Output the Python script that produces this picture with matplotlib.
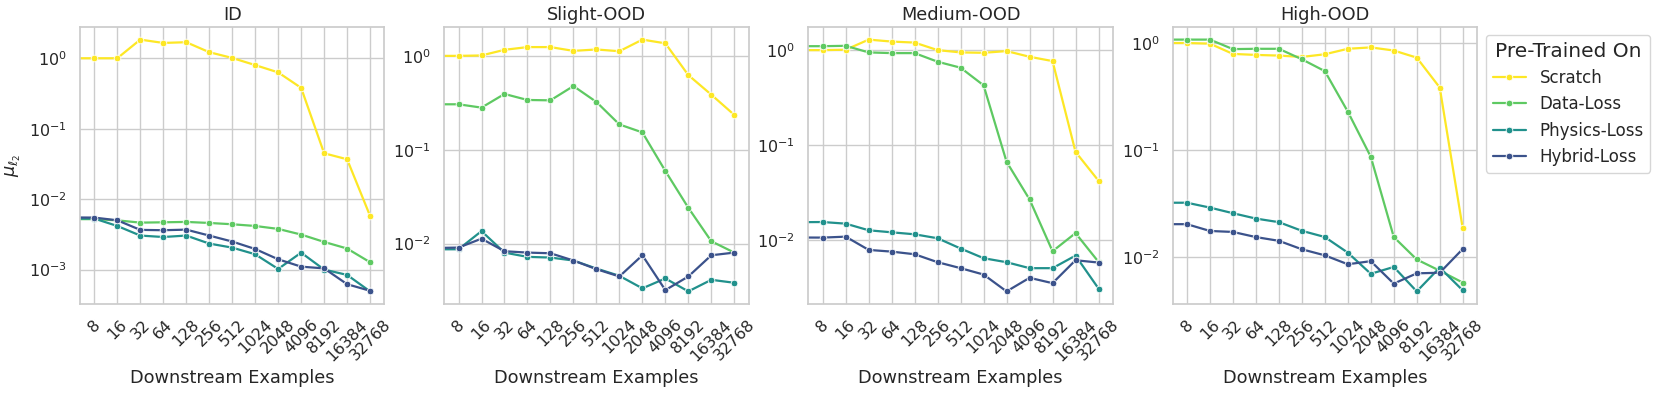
import numpy as np
import matplotlib
matplotlib.use('Agg')
import matplotlib.pyplot as plt
import seaborn as sns

# x values (4 is just off the left edge of each panel)
examples = [4, 8, 16, 32, 64, 128, 256, 512, 1024, 2048, 4096, 8192, 16384, 32768]
tick_labels = [str(v) for v in examples[1:]]
panels = ['ID', 'Slight-OOD', 'Medium-OOD', 'High-OOD']
methods = ['Scratch', 'Data-Loss', 'Physics-Loss', 'Hybrid-Loss']

id_scratch = [1.0, 1.0, 1.0, 1.84, 1.65, 1.69, 1.22, 1.01, 0.80, 0.63, 0.38, 0.0448, 0.0368, 0.00578]
id_data = [0.0052, 0.0052, 0.0050, 0.00464, 0.00469, 0.00475, 0.00459, 0.0044, 0.00416, 0.00378, 0.00314, 0.00247, 0.00199, 0.00127]
id_phys = [0.0053, 0.0053, 0.00416, 0.00304, 0.0029, 0.00304, 0.00234, 0.00205, 0.00165, 0.00102, 0.00174, 0.0010, 0.00084, 0.00049]
id_hyb = [0.0055, 0.00547, 0.00501, 0.00366, 0.00362, 0.00369, 0.00304, 0.0025, 0.00196, 0.0014, 0.0011, 0.00104, 0.00062, 0.0005]

sl_scratch = [1.0, 1.0, 1.01, 1.16, 1.24, 1.24, 1.13, 1.17, 1.12, 1.49, 1.36, 0.624, 0.386, 0.235]
sl_data = [0.305, 0.305, 0.281, 0.393, 0.339, 0.336, 0.477, 0.323, 0.186, 0.153, 0.0594, 0.0241, 0.0106, 0.00803]
sl_phys = [0.0087, 0.00871, 0.0136, 0.00803, 0.00723, 0.00711, 0.00661, 0.00543, 0.00454, 0.00334, 0.00426, 0.0031, 0.00412, 0.00383]
sl_hyb = [0.0090, 0.00908, 0.0113, 0.0083, 0.00803, 0.0079, 0.00661, 0.00535, 0.00447, 0.00752, 0.0032, 0.00447, 0.00752, 0.00803]

md_scratch = [1.0, 1.0, 1.01, 1.29, 1.23, 1.20, 1.0, 0.946, 0.937, 0.977, 0.851, 0.767, 0.0851, 0.0423]
md_data = [1.10, 1.10, 1.11, 0.946, 0.930, 0.930, 0.755, 0.653, 0.426, 0.0669, 0.0269, 0.00767, 0.0119, 0.00593]
md_phys = [0.0155, 0.01556, 0.01496, 0.01274, 0.01213, 0.01156, 0.0105, 0.00819, 0.00648, 0.00588, 0.00509, 0.00509, 0.0069, 0.00311]
md_hyb = [0.0107, 0.01067, 0.01092, 0.00792, 0.0076, 0.00713, 0.00588, 0.00509, 0.00436, 0.0029, 0.00403, 0.00354, 0.00617, 0.00583]

hi_scratch = [1.0, 1.0, 0.986, 0.791, 0.774, 0.763, 0.741, 0.785, 0.883, 0.910, 0.851, 0.730, 0.384, 0.0186]
hi_data = [1.076, 1.076, 1.076, 0.877, 0.883, 0.883, 0.705, 0.546, 0.2285, 0.0865, 0.0154, 0.0095, 0.00746, 0.00578]
hi_phys = [0.0322, 0.0322, 0.0290, 0.0257, 0.0229, 0.0212, 0.0176, 0.0154, 0.0110, 0.00698, 0.00809, 0.00478, 0.00798, 0.00489]
hi_hyb = [0.0203, 0.0203, 0.01754, 0.01718, 0.01538, 0.01419, 0.01183, 0.01038, 0.00857, 0.00916, 0.00565, 0.00705, 0.00714, 0.0119]

data = [
    [id_scratch, id_data, id_phys, id_hyb],
    [sl_scratch, sl_data, sl_phys, sl_hyb],
    [md_scratch, md_data, md_phys, md_hyb],
    [hi_scratch, hi_data, hi_phys, hi_hyb],
]

sns.set_theme(style='whitegrid')
plt.rcParams['font.family'] = ['DejaVu Sans']
colors = [plt.cm.viridis(v) for v in [1.0, 0.75, 0.5, 0.25]]

fig, axes = plt.subplots(1, 4, figsize=(16.61, 3.95), dpi=100)
fig.subplots_adjust(left=0.0482, right=0.8892, bottom=0.2304, top=0.9316, wspace=0.197)

xpos = np.arange(len(examples)) - 1
for ax, title, series in zip(axes, panels, data):
    for name, vals, c in zip(methods, series, colors):
        ax.plot(xpos, vals, color=c, lw=1.6, marker='o', ms=4.8,
                mec='white', mew=0.6, label=name)
    ax.set_yscale('log')
    ax.set_xlim(-0.62, 12.62)
    ax.set_xticks(xpos[1:])
    ax.set_xticklabels(tick_labels, rotation=45, ha='center', fontsize=11.5)
    ax.tick_params(axis='y', labelsize=11.5)
    ax.set_title(title, fontsize=12.8, pad=5)
    ax.set_xlabel('Downstream Examples', fontsize=12.8)
    for s in ax.spines.values():
        s.set_color('#cccccc')
        s.set_linewidth(1.25)
    ax.grid(True, which='major', color='#cccccc', lw=1.0)

axes[0].set_ylabel(r'$\mu_{\ell_2}$', fontsize=12.8)

handles, labels = axes[0].get_legend_handles_labels()
leg = fig.legend(handles, labels, title='Pre-Trained On', loc='upper left',
                 bbox_to_anchor=(0.8947, 0.9114), borderaxespad=0,
                 fontsize=12, title_fontsize=14.5, frameon=True)

fig.savefig('out.png', dpi=100)
